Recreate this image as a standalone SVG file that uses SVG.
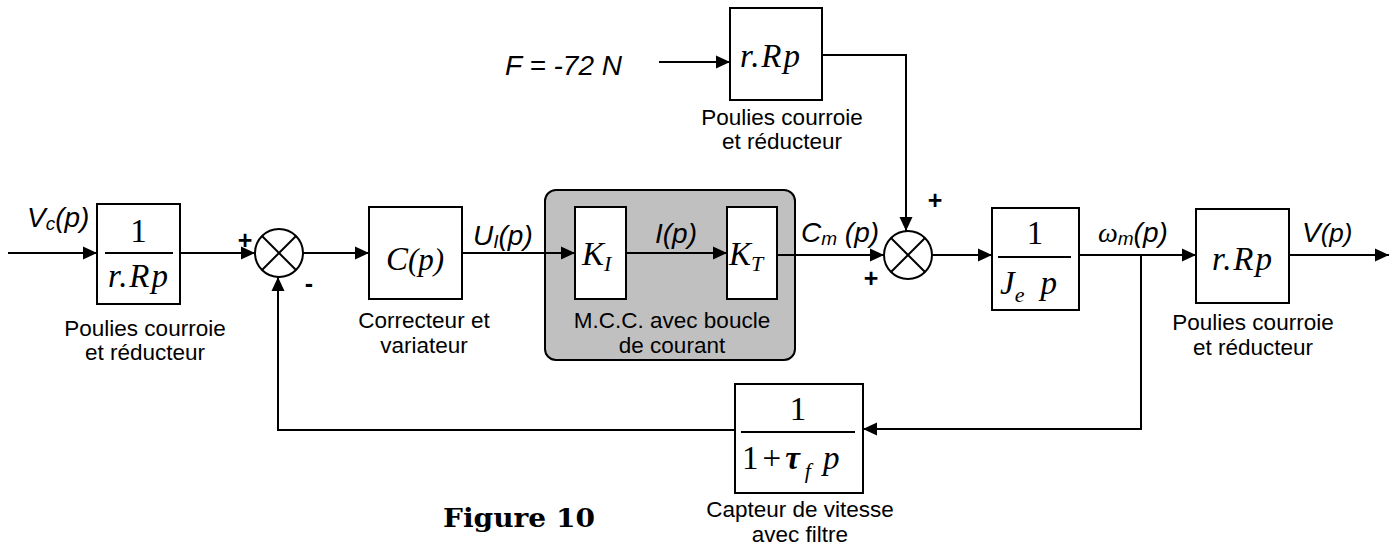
<svg xmlns="http://www.w3.org/2000/svg" width="1397" height="547" viewBox="0 0 1397 547">
<defs>
<marker id="ah" viewBox="0 0 14 14" refX="14" refY="7" markerWidth="14" markerHeight="14" markerUnits="userSpaceOnUse" orient="auto">
<path d="M0,0.5 L14,7 L0,13.5 Z" fill="#000"/>
</marker>
<style>
.blk{fill:#fff;stroke:#000;stroke-width:2}
.ln{fill:none;stroke:#000;stroke-width:2}
.arr{fill:none;stroke:#000;stroke-width:2;marker-end:url(#ah)}
.sum{fill:#fff;stroke:#000;stroke-width:2}
.cap{font-family:"Liberation Sans",Arial,sans-serif;font-size:22.5px;fill:#000;text-anchor:middle}
.lab{font-family:"Liberation Sans",Arial,sans-serif;font-style:italic;font-size:28px;fill:#000}
.sign{font-family:"Liberation Sans",Arial,sans-serif;font-weight:bold;font-size:25px;fill:#000;text-anchor:middle}
.m{font-family:"Liberation Serif","Times New Roman",serif;font-size:33px;fill:#000}
.mi{font-family:"Liberation Serif","Times New Roman",serif;font-style:italic;font-size:33px;fill:#000}
</style>
</defs>
<rect width="1397" height="547" fill="#fff"/>

<g id="mcc-group">
<rect x="545" y="190" width="250" height="170" rx="11" fill="#c0c0c0" stroke="#000" stroke-width="2"/>
<text class="cap" x="672" y="328">M.C.C. avec boucle</text>
<text class="cap" x="672" y="353">de courant</text>
</g>

<g id="connectors">
<line class="arr" x1="8" y1="253" x2="97" y2="253"/>
<line class="arr" x1="180" y1="253" x2="255" y2="253"/>
<line class="arr" x1="303" y1="253" x2="369" y2="253"/>
<line class="arr" x1="462" y1="253" x2="575" y2="253"/>
<line class="arr" x1="626" y1="253" x2="727" y2="253"/>
<line class="arr" x1="777" y1="255" x2="884" y2="255"/>
<line class="arr" x1="932" y1="255" x2="992" y2="255"/>
<line class="arr" x1="1079" y1="255" x2="1196" y2="255"/>
<line class="arr" x1="1289" y1="255" x2="1389" y2="255"/>
<line class="arr" x1="659" y1="62" x2="730" y2="62"/>
<polyline class="arr" points="822,55 906,55 906,231"/>
<polyline class="arr" points="1141,255 1141,429 863,429"/>
<polyline class="arr" points="735,430 278,430 278,277"/>
</g>

<g id="b-in">
<rect class="blk" x="97" y="204" width="83" height="100"/>
<text class="m" x="138.5" y="242" text-anchor="middle">1</text>
<line class="ln" x1="105" y1="253" x2="173" y2="253"/>
<text class="mi" x="108" y="287" textLength="60" lengthAdjust="spacing">r.Rp</text>
<text class="cap" x="145" y="336">Poulies courroie</text>
<text class="cap" x="145" y="360">et réducteur</text>
</g>

<g id="sum1">
<circle class="sum" cx="279" cy="253" r="24"/>
<line class="ln" x1="262" y1="236" x2="296" y2="270"/>
<line class="ln" x1="296" y1="236" x2="262" y2="270"/>
<text class="sign" x="245" y="249">+</text>
<text class="sign" x="309" y="292">-</text>
</g>

<g id="b-cp">
<rect class="blk" x="369" y="207" width="93" height="92"/>
<text class="mi" x="415" y="270" text-anchor="middle" font-size="35">C<tspan font-size="31">(p)</tspan></text>
<text class="cap" x="424" y="328">Correcteur et</text>
<text class="cap" x="424" y="353">variateur</text>
</g>

<g id="b-ki">
<rect class="blk" x="575" y="207" width="51" height="92"/>
<text class="mi" x="582" y="265" font-size="35">K<tspan font-size="22" dy="6">I</tspan></text>
</g>

<g id="b-kt">
<rect class="blk" x="727" y="207" width="50" height="92"/>
<text class="mi" x="729" y="265" font-size="35">K<tspan font-size="22" dy="6">T</tspan></text>
</g>

<g id="sum2">
<circle class="sum" cx="908" cy="255" r="24"/>
<line class="ln" x1="891" y1="238" x2="925" y2="272"/>
<line class="ln" x1="925" y1="238" x2="891" y2="272"/>
<text class="sign" x="935" y="209">+</text>
<text class="sign" x="871" y="287">+</text>
</g>

<g id="b-je">
<rect class="blk" x="992" y="208" width="87" height="102"/>
<text class="m" x="1035" y="244" text-anchor="middle">1</text>
<line class="ln" x1="998" y1="257" x2="1071" y2="257"/>
<text class="mi" x="1000" y="294">J<tspan font-size="22" dy="8">e</tspan><tspan dx="16" dy="-8">p</tspan></text>
</g>

<g id="b-out">
<rect class="blk" x="1196" y="209" width="93" height="94"/>
<text class="mi" x="1212" y="270" textLength="60" lengthAdjust="spacing">r.Rp</text>
<text class="cap" x="1253" y="330">Poulies courroie</text>
<text class="cap" x="1253" y="355">et réducteur</text>
</g>

<g id="b-top">
<rect class="blk" x="730" y="8" width="92" height="92"/>
<text class="mi" x="740" y="67" textLength="60" lengthAdjust="spacing">r.Rp</text>
<text class="cap" x="782" y="125">Poulies courroie</text>
<text class="cap" x="782" y="149">et réducteur</text>
</g>

<g id="b-filter">
<rect class="blk" x="735" y="384" width="128" height="109"/>
<text class="m" x="798" y="420" text-anchor="middle" font-size="35">1</text>
<line class="ln" x1="741" y1="432" x2="855" y2="432"/>
<text class="m" x="742" y="469" font-size="34">1<tspan dx="4">+</tspan><tspan dx="4" font-style="italic" font-weight="bold">τ</tspan><tspan font-style="italic" font-size="22" dx="5" dy="9">f</tspan><tspan font-style="italic" dx="12" dy="-9">p</tspan></text>
<text class="cap" x="800" y="517">Capteur de vitesse</text>
<text class="cap" x="800" y="542">avec filtre</text>
</g>

<g id="labels">
<text class="lab" x="27" y="227">V<tspan font-size="19" dy="3">c</tspan><tspan dy="-3">(p)</tspan></text>
<text class="lab" x="473" y="245">U<tspan font-size="19" dy="3">I</tspan><tspan dy="-3">(p)</tspan></text>
<text class="lab" x="655" y="243">I(p)</text>
<text class="lab" x="801" y="242">C<tspan font-size="19" dy="3">m</tspan><tspan dy="-3"> (p)</tspan></text>
<text class="lab" x="1098" y="242"><tspan font-family="Liberation Serif,serif">ω</tspan><tspan font-size="19" dy="3">m</tspan><tspan dy="-3">(p)</tspan></text>
<text class="lab" x="1302" y="242">V<tspan font-size="26">(p)</tspan></text>
<text class="lab" x="505" y="75" font-size="27">F = -72 N</text>
</g>

<text x="443" y="527" font-family="DejaVu Serif,serif" font-weight="bold" font-size="26" textLength="152" lengthAdjust="spacingAndGlyphs">Figure 10</text>
</svg>
